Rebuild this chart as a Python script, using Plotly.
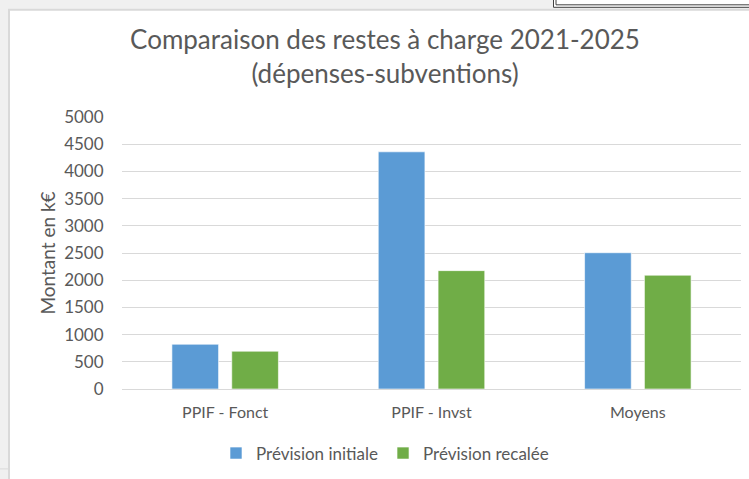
import plotly.graph_objects as go

# data (k€)
categories = ['PPIF - Fonct', 'PPIF - Invst', 'Moyens']
prevision_initiale = [823, 4360, 2505]
prevision_recalee = [695, 2176, 2092]
y_ticks = [0, 500, 1000, 1500, 2000, 2500, 3000, 3500, 4000, 4500, 5000]

W, H = 749, 479
L, R, T, B = 122, 8, 117, 88
pw, ph = W - L - R, H - T - B


def px(x):
    return (x - L) / pw


def py(y):
    return (H - B - y) / ph


txt = '#595959'
font = 'Lato, Open Sans, sans-serif'

fig = go.Figure()
fig.add_trace(go.Bar(x=categories, y=prevision_initiale, name='Prévision initiale',
                     marker=dict(color='#5B9BD5', line=dict(color='rgba(255,255,255,0.6)', width=1))))
fig.add_trace(go.Bar(x=categories, y=prevision_recalee, name='Prévision recalée',
                     marker=dict(color='#70AD47', line=dict(color='rgba(255,255,255,0.6)', width=1))))

fig.update_layout(
    width=W, height=H,
    margin=dict(l=L, r=R, t=T, b=B),
    paper_bgcolor='#f0f0f0',
    plot_bgcolor='rgba(0,0,0,0)',
    barmode='group', bargap=0.42, bargroupgap=0.22,
    font=dict(family=font, color=txt, size=16),
    title=dict(text='Comparaison des restes à charge 2021-2025<br>(dépenses-subventions)',
               x=px(385), xref='paper', xanchor='center',
               y=1 - 49 / H, yanchor='top',
               font=dict(size=26, color=txt, family=font)),
    xaxis=dict(showgrid=False, showline=True, linecolor='#d9d9d9', linewidth=1,
               ticks='outside', ticklen=9, tickcolor='rgba(0,0,0,0)',
               tickfont=dict(size=16, color=txt)),
    yaxis=dict(range=[0, 5000], tickvals=y_ticks, showgrid=True, gridcolor='#d9d9d9',
               gridwidth=1, zeroline=False, showline=False,
               ticks='outside', ticklen=14, tickcolor='rgba(0,0,0,0)',
               tickfont=dict(size=17, color=txt),
               title=dict(text='Montant en k€', standoff=3, font=dict(size=19, color=txt))),
    legend=dict(orientation='h', x=px(385), xanchor='center', y=py(456), yanchor='middle',
                font=dict(size=17, color=txt), bgcolor='rgba(0,0,0,0)'),
    shapes=[
        # white chart area with its grey frame
        dict(type='rect', xref='paper', yref='paper', layer='below',
             x0=px(9), x1=px(770), y0=py(9), y1=py(490),
             fillcolor='white', line=dict(color='#d9d9d9', width=2)),
        # small line at the bottom left of the sheet
        dict(type='line', xref='paper', yref='paper', layer='below',
             x0=px(0), x1=px(8), y0=py(471.5), y1=py(471.5),
             line=dict(color='#d9d9d9', width=1)),
        # double-lined box peeking in at the top right
        dict(type='rect', xref='paper', yref='paper', layer='above',
             x0=px(553.5), x1=px(760), y0=py(-5), y1=py(6.5),
             fillcolor='white', line=dict(color='#404040', width=1)),
        dict(type='rect', xref='paper', yref='paper', layer='above',
             x0=px(556), x1=px(760), y0=py(-5), y1=py(4),
             fillcolor='white', line=dict(color='#404040', width=1)),
    ],
)

# the page body has an 8px margin by default; drop it so the figure fills the window
fig.write_html('out.html', config={'displayModeBar': False},
               post_script="document.body.style.margin='0';")
